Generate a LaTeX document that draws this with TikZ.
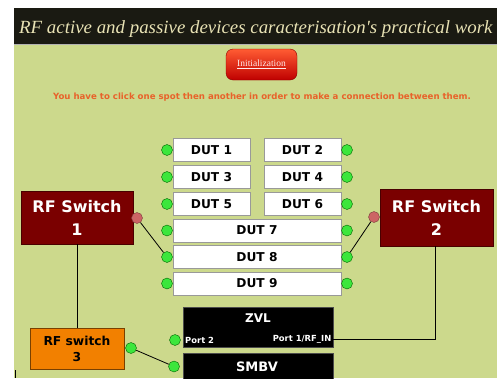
\documentclass[tikz,border=0pt]{standalone}
\usepackage{fontspec}
\setmainfont{Liberation Serif}
\setsansfont{DejaVu Sans}
\newfontfamily\titlefont[FakeStretch=1.015]{Liberation Serif}
\usetikzlibrary{shadings}

\definecolor{bggreen}{RGB}{204,217,140}
\definecolor{barblack}{RGB}{26,26,18}
\definecolor{titlecream}{RGB}{232,226,180}
\definecolor{hintorange}{RGB}{232,98,42}
\definecolor{spotgreen}{RGB}{60,230,60}
\definecolor{spotpink}{RGB}{204,100,100}
\definecolor{switchred}{RGB}{122,0,0}
\definecolor{switchorange}{RGB}{242,128,0}

\tikzset{
  dutbox/.style={draw=gray!80, fill=white, minimum height=23pt, inner sep=0pt,
    font=\sffamily\bfseries\fontsize{12.2}{12}\selectfont},
  spot/.style={circle, draw=green!40!black, fill=spotgreen, minimum size=11pt, inner sep=0pt},
  pinkspot/.style={circle, draw=spotpink!60!black, fill=spotpink, minimum size=11pt, inner sep=0pt},
  switchbox/.style={draw=switchred!60!black, fill=switchred, text=white, align=center,
    font=\sffamily\bfseries\fontsize{16}{23}\selectfont},
  devbox/.style={fill=black, draw=gray!60!black, text=white,
    font=\sffamily\bfseries\fontsize{12}{12}\selectfont},
  portlabel/.style={text=white, inner sep=1pt, font=\sffamily\bfseries\fontsize{8.4}{8}\selectfont},
  wire/.style={draw=black, thick}
}

\begin{document}
\begin{tikzpicture}[x=1pt, y=-1pt]
   \useasboundingbox (0,0) rectangle (497,378);
   \clip (0,0) rectangle (497,378);
   \fill[white] (0,0) rectangle (497,378);
   \fill[bggreen] (14,44) rectangle (497,378);
   \fill[barblack] (14,8) rectangle (497,44);
   \draw[gray!60] (14,44.5) -- (497,44.5);
   \draw[black, thick] (15,370) -- (15,378);

   % header
   \node[anchor=base west, inner sep=0pt, text=titlecream,
     font=\titlefont\itshape\fontsize{18.6}{20}\selectfont] (title) at (19,33)
     {RF active and passive devices caracterisation's practical work};
   \node[draw=red!55!black, top color=red!60!orange!80, bottom color=red!75!black,
     rounded corners=7pt, minimum width=71pt, minimum height=31pt, text=red!8!white,
     font=\fontsize{9.5}{10}\selectfont] (init) at (261.5,64.5) {\underline{Initialization}};
   \node[text=hintorange, font=\sffamily\bfseries\fontsize{8.6}{9}\selectfont] (hint) at (262,97)
     {You have to click one spot then another in order to make a connection between them.};

   % devices under test
   \begin{scope}[every node/.style={dutbox}]
    \node[minimum width=77pt] (dut1) at (211.5,150) {DUT 1};
    \node[minimum width=77pt] (dut2) at (302.5,150) {DUT 2};
    \node[minimum width=77pt] (dut3) at (211.5,177) {DUT 3};
    \node[minimum width=77pt] (dut4) at (302.5,177) {DUT 4};
    \node[minimum width=77pt] (dut5) at (211.5,204) {DUT 5};
    \node[minimum width=77pt] (dut6) at (302.5,204) {DUT 6};
    \node[minimum width=168pt] (dut7) at (257,230.5) {DUT 7};
    \node[minimum width=168pt] (dut8) at (257,257) {DUT 8};
    \node[minimum width=168pt] (dut9) at (257,283.5) {DUT 9};
   \end{scope}
   \foreach \r/\y in {1/150,2/177,3/204,4/230.5,5/257,6/283.5}{
    \node[spot] (l\r) at (167,\y) {};
    \node[spot] (r\r) at (347,\y) {};
   }

   % switches
   \node[switchbox, minimum width=112pt, minimum height=53pt] (sw1) at (77,217.5) {RF Switch\\1};
   \node[switchbox, minimum width=113pt, minimum height=57pt] (sw2) at (436.5,217.5) {RF Switch\\2};
   \node[switchbox, fill=switchorange, draw=switchorange!50!black, text=black,
     font=\sffamily\bfseries\fontsize{12.3}{16}\selectfont,
     minimum width=94pt, minimum height=41pt] (sw3) at (77,348.5) {RF switch\\3};
   \node[pinkspot] (p1) at (137,218) {};
   \node[pinkspot] (p2) at (374,217) {};
   \node[spot] (p3) at (131,348) {};

   % instruments
   \node[devbox, minimum width=150pt, minimum height=40pt] (zvl) at (258,327) {};
   \node[devbox, minimum width=150pt, minimum height=40pt] (smbv) at (258,373) {};
   \node[text=white, font=\sffamily\bfseries\fontsize{12}{12}\selectfont] (zvllabel) at (258,318) {ZVL};
   \node[text=white, font=\sffamily\bfseries\fontsize{13}{13}\selectfont] (smbvlabel) at (257,367) {SMBV};
   \node[portlabel, anchor=west] (port2) at (184,340) {Port 2};
   \node[portlabel, anchor=east] (port1) at (332.5,339) {Port 1/RF\_IN};
   \node[spot] (zvlspot) at (175,340) {};
   \node[spot] (smbvspot) at (174,366.5) {};

   % connections
   \begin{scope}[every edge/.style={wire}]
    \draw (p1) edge (l5);
    \draw (p2) edge (r5);
    \draw (p3) edge (smbvspot);
    \draw (sw1.south) edge (sw3.north);
   \end{scope}
   \draw[wire] (sw2.south -| 435,0) |- (port1.east -| zvl.east);
\end{tikzpicture}
\end{document}
